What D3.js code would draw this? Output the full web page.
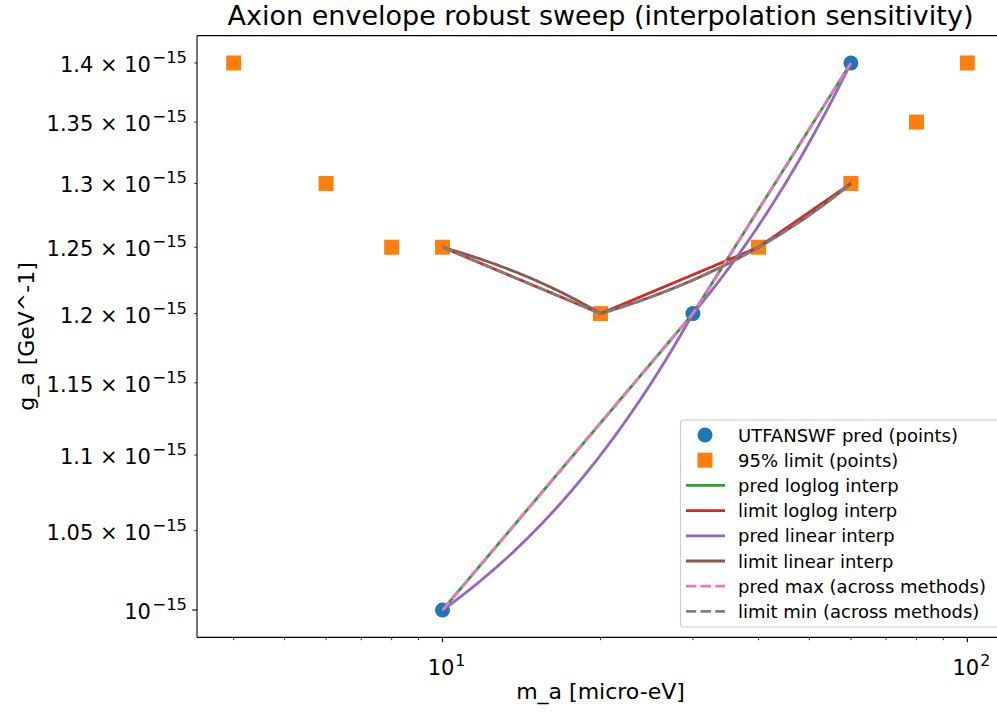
<!DOCTYPE html>
<html>
<head>
<meta charset="UTF-8">
<title>Axion envelope robust sweep</title>
<script src="https://d3js.org/d3.v7.min.js"></script>
<style>
  body { margin: 0; background: #fff; }
  svg { font-family: "DejaVu Sans", sans-serif; }
</style>
</head>
<body>
<svg width="997" height="717"></svg>
<script>
// data (g_a values in GeV^-1)
const predMass = [10, 30, 60];
const predCoupling = [1.0e-15, 1.2e-15, 1.4e-15];
const limitMass = [4, 6, 8, 10, 20, 40, 60, 80, 100];
const limitCoupling = [1.4e-15, 1.3e-15, 1.25e-15, 1.25e-15, 1.2e-15, 1.25e-15, 1.3e-15, 1.35e-15, 1.4e-15];

const yTickValues = [1.0e-15, 1.05e-15, 1.1e-15, 1.15e-15, 1.2e-15, 1.25e-15, 1.3e-15, 1.35e-15, 1.4e-15];
const yTickMantissa = ["", "1.05", "1.1", "1.15", "1.2", "1.25", "1.3", "1.35", "1.4"];
const xMajorTicks = [10, 100];
const xMajorExp = ["1", "2"];
const xMinorTicks = [4, 5, 6, 7, 8, 9, 20, 30, 40, 50, 60, 70, 80, 90];

const svg = d3.select("svg");
const axLeft = 197, axRight = 1004, axTop = 35.6, axBottom = 637.4;
const tickFont = 21, labelFont = 22, titleFont = 27, legendFont = 18;

// matplotlib style 5% margins in log space
function logPad(vals) {
  const lo = Math.log10(d3.min(vals)), hi = Math.log10(d3.max(vals));
  const m = (hi - lo) * 0.05;
  return [Math.pow(10, lo - m), Math.pow(10, hi + m)];
}
const x = d3.scaleLog().domain(logPad(limitMass.concat(predMass))).range([axLeft, axRight]);
const y = d3.scaleLog().domain(logPad(limitCoupling.concat(predCoupling))).range([axBottom, axTop]);

// interpolation on a dense grid over the prediction range
const nGrid = 300;
const grid = d3.range(nGrid).map(i => Math.exp(d3.interpolateNumber(Math.log(10), Math.log(60))(i / (nGrid - 1))));
function linInterp(xs, ys) { return d3.scaleLinear().domain(xs).range(ys).clamp(true); }
function logInterp(xs, ys) {
  const s = d3.scaleLinear().domain(xs.map(Math.log)).range(ys.map(Math.log)).clamp(true);
  return v => Math.exp(s(Math.log(v)));
}
const predLog = logInterp(predMass, predCoupling), predLin = linInterp(predMass, predCoupling);
const limLog = logInterp(limitMass, limitCoupling), limLin = linInterp(limitMass, limitCoupling);

const series = [
  { name: "pred loglog interp", color: "#2ca02c", dash: null, f: predLog },
  { name: "limit loglog interp", color: "#d62728", dash: null, f: limLog },
  { name: "pred linear interp", color: "#9467bd", dash: null, f: predLin },
  { name: "limit linear interp", color: "#8c564b", dash: null, f: limLin },
  { name: "pred max (across methods)", color: "#e377c2", dash: "10.3,4.4", f: v => Math.max(predLog(v), predLin(v)) },
  { name: "limit min (across methods)", color: "#7f7f7f", dash: "10.3,4.4", f: v => Math.min(limLog(v), limLin(v)) }
];

const plot = svg.append("g");
plot.append("defs").append("clipPath").attr("id", "clip")
  .append("rect").attr("x", axLeft).attr("y", axTop).attr("width", axRight - axLeft).attr("height", axBottom - axTop);
const g = plot.append("g").attr("clip-path", "url(#clip)");

// points
g.selectAll("circle.pred").data(predMass).join("circle")
  .attr("cx", d => x(d)).attr("cy", (d, i) => y(predCoupling[i]))
  .attr("r", 7.5).attr("fill", "#1f77b4");
g.selectAll("rect.lim").data(limitMass).join("rect")
  .attr("x", d => x(d) - 7.5).attr("y", (d, i) => y(limitCoupling[i]) - 7.5)
  .attr("width", 15).attr("height", 15).attr("fill", "#ff7f0e");

const line = d3.line().x(d => x(d[0])).y(d => y(d[1]));
series.forEach(s => {
  g.append("path")
    .datum(grid.map(v => [v, s.f(v)]))
    .attr("d", line)
    .attr("fill", "none")
    .attr("stroke", s.color)
    .attr("stroke-width", 2.8)
    .attr("stroke-dasharray", s.dash);
});

// frame
const frame = [[axLeft, axTop, axLeft, axBottom], [axLeft, axBottom, axRight, axBottom],
               [axLeft, axTop, axRight, axTop], [axRight, axTop, axRight, axBottom]];
frame.forEach(f => svg.append("line").attr("x1", f[0]).attr("y1", f[1]).attr("x2", f[2]).attr("y2", f[3])
  .attr("stroke", "#000").attr("stroke-width", 1.1));

// x ticks
svg.selectAll("line.xminor").data(xMinorTicks).join("line")
  .attr("x1", d => x(d)).attr("x2", d => x(d)).attr("y1", axBottom).attr("y2", axBottom + 2.8)
  .attr("stroke", "#000").attr("stroke-width", 0.8);
svg.selectAll("line.xmajor").data(xMajorTicks).join("line")
  .attr("x1", d => x(d)).attr("x2", d => x(d)).attr("y1", axBottom).attr("y2", axBottom + 4.9)
  .attr("stroke", "#000").attr("stroke-width", 1.1);
xMajorTicks.forEach((d, i) => {
  const t = svg.append("text").attr("x", x(d) + 4).attr("y", axBottom + 38).attr("text-anchor", "middle")
    .attr("font-size", tickFont).attr("fill", "#000");
  t.append("tspan").text("10");
  t.append("tspan").attr("dx", 1).attr("dy", -9).attr("font-size", tickFont * 0.75).text(xMajorExp[i]);
});

// y ticks
yTickValues.forEach((d, i) => {
  const major = i === 0;
  const len = major ? 4.9 : 2.8;
  svg.append("line").attr("x1", axLeft - len).attr("x2", axLeft).attr("y1", y(d)).attr("y2", y(d))
    .attr("stroke", "#000").attr("stroke-width", major ? 1.1 : 0.8);
  const t = svg.append("text").attr("x", 187).attr("y", y(d) + 9).attr("text-anchor", "end")
    .attr("font-size", tickFont).attr("fill", "#000")
    .style("white-space", "pre");
  t.append("tspan").text(yTickMantissa[i] ? yTickMantissa[i] + " \u00d7 10" : "10");
  t.append("tspan").attr("dx", 1.5).attr("dy", -9).attr("font-size", tickFont * 0.78).text("\u221215");
});

// labels
svg.append("text").attr("x", (axLeft + axRight) / 2).attr("y", 25).attr("text-anchor", "middle")
  .attr("font-size", titleFont).text("Axion envelope robust sweep (interpolation sensitivity)");
svg.append("text").attr("x", (axLeft + axRight) / 2).attr("y", 699).attr("text-anchor", "middle")
  .attr("font-size", labelFont).text("m_a [micro-eV]");
svg.append("text").attr("transform", `translate(34,${(axTop + axBottom) / 2}) rotate(-90)`).attr("text-anchor", "middle")
  .attr("font-size", labelFont).text("g_a [GeV^-1]");

// legend
const lg = svg.append("g");
lg.append("rect").attr("x", 680.5).attr("y", 420).attr("width", 330).attr("height", 207).attr("rx", 3)
  .attr("fill", "#fff").attr("fill-opacity", 0.8).attr("stroke", "#ccc").attr("stroke-width", 1.1);
const rowY = i => 435 + i * 25.2;
lg.append("circle").attr("cx", 705).attr("cy", rowY(0)).attr("r", 7.5).attr("fill", "#1f77b4");
lg.append("rect").attr("x", 697.5).attr("y", rowY(1) - 7.5).attr("width", 15).attr("height", 15).attr("fill", "#ff7f0e");
const labels = ["UTFANSWF pred (points)", "95% limit (points)"].concat(series.map(s => s.name));
series.forEach((s, i) => {
  lg.append("line").attr("x1", 686).attr("x2", 725).attr("y1", rowY(i + 2)).attr("y2", rowY(i + 2))
    .attr("stroke", s.color).attr("stroke-width", 2.8).attr("stroke-dasharray", s.dash);
});
labels.forEach((l, i) => {
  lg.append("text").attr("x", 738).attr("y", rowY(i) + 6.5).attr("font-size", legendFont).text(l);
});
</script>
</body>
</html>
